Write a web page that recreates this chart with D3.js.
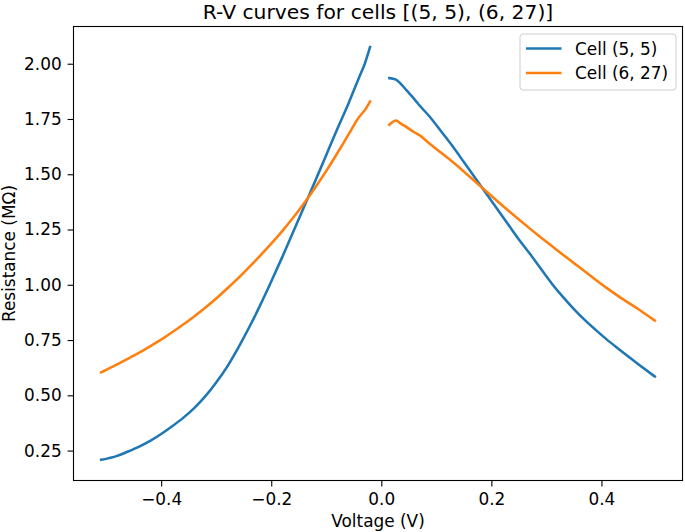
<!DOCTYPE html>
<html>
<head>
<meta charset="utf-8">
<script src="https://cdn.jsdelivr.net/npm/d3@7/dist/d3.min.js"></script>
<style>
  html, body { margin: 0; padding: 0; background: #fff; }
  svg { display: block; font-family: "DejaVu Sans", sans-serif; }
</style>
</head>
<body>
<svg id="chart" width="685" height="532"></svg>
<script>
// ---- Data ----
const titleText = "R-V curves for cells [(5, 5), (6, 27)]";
const seriesNames = ["Cell (5, 5)", "Cell (6, 27)"];
const xTicks = [-0.4, -0.2, 0.0, 0.2, 0.4];
const yTicks = [0.25, 0.50, 0.75, 1.00, 1.25, 1.50, 1.75, 2.00];

// negative-voltage branch
const voltageNeg = [-0.509, -0.48, -0.46, -0.44, -0.42, -0.40, -0.38, -0.36, -0.34, -0.32,
                    -0.30, -0.28, -0.26, -0.24, -0.22, -0.20, -0.18, -0.16, -0.14, -0.12,
                    -0.10, -0.08, -0.06, -0.04, -0.03, -0.0205];
const cell55Neg  = [0.208, 0.226, 0.246, 0.268, 0.294, 0.325, 0.360, 0.398, 0.442, 0.495,
                    0.558, 0.630, 0.715, 0.808, 0.908, 1.015, 1.125, 1.240, 1.355, 1.470,
                    1.587, 1.705, 1.818, 1.940, 2.000, 2.075];
const cell627Neg = [0.604, 0.640, 0.666, 0.693, 0.722, 0.752, 0.785, 0.820, 0.857, 0.896,
                    0.938, 0.983, 1.030, 1.080, 1.132, 1.186, 1.243, 1.304, 1.370, 1.440,
                    1.515, 1.595, 1.678, 1.760, 1.790, 1.829];

// positive-voltage branch
const voltagePos = [0.0146, 0.0267, 0.035, 0.046, 0.06, 0.07, 0.088, 0.11, 0.13, 0.15,
                    0.17, 0.19, 0.21, 0.23, 0.25, 0.27, 0.29, 0.31, 0.33, 0.35,
                    0.37, 0.39, 0.41, 0.43, 0.45, 0.47, 0.497];
const cell55Pos  = [1.935, 1.928, 1.910, 1.879, 1.840, 1.810, 1.760, 1.690, 1.625, 1.555,
                    1.485, 1.415, 1.345, 1.275, 1.205, 1.140, 1.072, 1.005, 0.945, 0.890,
                    0.840, 0.795, 0.752, 0.712, 0.673, 0.635, 0.585];
const cell627Pos = [1.724, 1.743, 1.730, 1.713, 1.690, 1.676, 1.638, 1.595, 1.555, 1.512,
                    1.468, 1.424, 1.380, 1.337, 1.295, 1.254, 1.214, 1.175, 1.136, 1.098,
                    1.060, 1.022, 0.985, 0.950, 0.917, 0.885, 0.838];

const colors = ["#1f77b4", "#ff7f0e"];

// ---- Layout ----
const svg = d3.select("#chart");
const L = 73.5, R = 682.5, T = 26.5, B = 480.5;

const allV = voltageNeg.concat(voltagePos);
const allR = cell55Neg.concat(cell55Pos, cell627Neg, cell627Pos);
const [vx0, vx1] = d3.extent(allV);
const [ry0, ry1] = d3.extent(allR);
const mx = (vx1 - vx0) * 0.05, my = (ry1 - ry0) * 0.05;

const x = d3.scaleLinear().domain([vx0 - mx, vx1 + mx]).range([L, R]);
const y = d3.scaleLinear().domain([ry0 - my, ry1 + my]).range([B, T]);

svg.append("defs").append("clipPath").attr("id", "clip")
  .append("rect").attr("x", L).attr("y", T).attr("width", R - L).attr("height", B - T);

const line = d3.line().x(d => x(d[0])).y(d => y(d[1])).curve(d3.curveMonotoneX);

const series = [
  [d3.zip(voltageNeg, cell55Neg), d3.zip(voltagePos, cell55Pos)],
  [d3.zip(voltageNeg, cell627Neg), d3.zip(voltagePos, cell627Pos)]
];

const plot = svg.append("g").attr("clip-path", "url(#clip)");
series.forEach((branches, i) => {
  branches.forEach(pts => {
    plot.append("path").attr("d", line(pts))
      .attr("fill", "none").attr("stroke", colors[i])
      .attr("stroke-width", 2.55).attr("stroke-linejoin", "round")
      .attr("stroke-linecap", "square");
  });
});

// axes
const xAxis = d3.axisBottom(x).tickValues(xTicks).tickFormat(d3.format(".1f"))
  .tickSize(5.9).tickPadding(5.9);
const yAxis = d3.axisLeft(y).tickValues(yTicks).tickFormat(d3.format(".2f"))
  .tickSize(5.9).tickPadding(5.9);

const gx = svg.append("g").attr("transform", `translate(0,${B})`).call(xAxis);
const gy = svg.append("g").attr("transform", `translate(${L},0)`).call(yAxis);
[gx, gy].forEach(g => {
  g.select(".domain").remove();
  g.selectAll("line").attr("stroke", "#000").attr("stroke-width", 1.1);
  g.selectAll("text").attr("fill", "#000").style("font-size", "16.9px")
    .style("font-family", "'DejaVu Sans', sans-serif");
});
gx.selectAll("text").attr("dy", "0.76em");

// frame
svg.append("rect").attr("x", L).attr("y", T).attr("width", R - L).attr("height", B - T)
  .attr("fill", "none").attr("stroke", "#000").attr("stroke-width", 1.1);

// title & labels
svg.append("text").attr("x", (L + R) / 2).attr("y", 18.5).attr("text-anchor", "middle")
  .style("font-size", "20.3px").text(titleText);
svg.append("text").attr("x", (L + R) / 2).attr("y", 527).attr("text-anchor", "middle")
  .style("font-size", "16.9px").text("Voltage (V)");
svg.append("text").attr("transform", `translate(15,${(T + B) / 2}) rotate(-90)`)
  .attr("text-anchor", "middle").style("font-size", "16.9px").text("Resistance (MΩ)");

// legend
const lg = svg.append("g");
lg.append("rect").attr("x", 520).attr("y", 34).attr("width", 156).attr("height", 56)
  .attr("rx", 3).attr("fill", "#fff").attr("fill-opacity", 0.8)
  .attr("stroke", "#cccccc").attr("stroke-width", 1);
seriesNames.forEach((name, i) => {
  const yy = 48.5 + i * 24.4;
  lg.append("line").attr("x1", 526).attr("x2", 561.5).attr("y1", yy).attr("y2", yy)
    .attr("stroke", colors[i]).attr("stroke-width", 2.55);
  lg.append("text").attr("x", 575).attr("y", yy + 6).style("font-size", "16.9px").text(name);
});
</script>
</body>
</html>
